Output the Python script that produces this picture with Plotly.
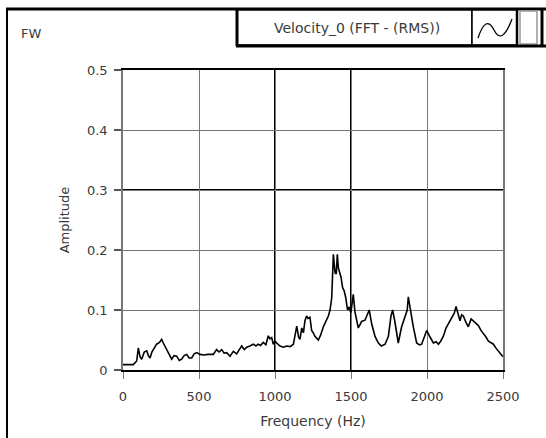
import plotly.graph_objects as go

# ---- data ----
freq_hz = [
    0, 68, 90, 101, 112, 123, 140, 156, 167, 178,
    190, 200, 221, 240, 254, 265, 276, 298, 320, 336,
    353, 370, 386, 402, 419, 435, 452, 468, 485, 506,
    530, 560, 594, 616, 632, 649, 665, 682, 704, 726,
    748, 765, 781, 798, 814, 835, 857, 875, 890, 905,
    923, 940, 956, 967, 978, 989, 1000, 1011, 1033, 1055,
    1077, 1100, 1121, 1143, 1155, 1164, 1176, 1187, 1197, 1208,
    1217, 1230, 1241, 1252, 1263, 1285, 1300, 1318, 1335, 1351,
    1362, 1373, 1384, 1390, 1395, 1403, 1410, 1417, 1425, 1434,
    1445, 1455, 1466, 1477, 1488, 1499, 1515, 1526, 1548, 1570,
    1592, 1605, 1620, 1636, 1658, 1680, 1700, 1724, 1746, 1763,
    1774, 1789, 1811, 1833, 1855, 1870, 1877, 1888, 1910, 1932,
    1950, 1965, 1980, 1998, 2020, 2042, 2060, 2075, 2090, 2107,
    2125, 2140, 2162, 2180, 2191, 2205, 2217, 2228, 2239, 2255,
    2272, 2290, 2305, 2320, 2338, 2355, 2371, 2388, 2404, 2420,
    2437, 2455, 2469, 2485, 2500,
]
amplitude = [
    0.009, 0.009, 0.015, 0.037, 0.022, 0.018, 0.030, 0.032, 0.024, 0.020,
    0.030, 0.034, 0.043, 0.046, 0.051, 0.045, 0.040, 0.029, 0.018, 0.024,
    0.023, 0.016, 0.018, 0.024, 0.026, 0.020, 0.020, 0.027, 0.029, 0.026,
    0.025, 0.026, 0.026, 0.034, 0.030, 0.034, 0.028, 0.029, 0.023, 0.031,
    0.027, 0.034, 0.040, 0.034, 0.038, 0.040, 0.043, 0.040, 0.043, 0.041,
    0.046, 0.042, 0.057, 0.052, 0.054, 0.043, 0.048, 0.045, 0.040, 0.038,
    0.040, 0.039, 0.043, 0.073, 0.055, 0.051, 0.070, 0.062, 0.082, 0.090,
    0.086, 0.088, 0.066, 0.062, 0.056, 0.050, 0.058, 0.072, 0.082, 0.090,
    0.100, 0.120, 0.193, 0.165, 0.162, 0.160, 0.193, 0.170, 0.162, 0.155,
    0.137, 0.132, 0.120, 0.100, 0.105, 0.095, 0.126, 0.097, 0.070, 0.081,
    0.083, 0.090, 0.100, 0.077, 0.056, 0.045, 0.040, 0.043, 0.056, 0.090,
    0.100, 0.080, 0.045, 0.072, 0.088, 0.100, 0.122, 0.104, 0.072, 0.045,
    0.042, 0.043, 0.055, 0.066, 0.055, 0.045, 0.047, 0.043, 0.048, 0.056,
    0.070, 0.077, 0.088, 0.095, 0.106, 0.090, 0.082, 0.092, 0.090, 0.080,
    0.072, 0.085, 0.082, 0.078, 0.074, 0.066, 0.061, 0.055, 0.048, 0.046,
    0.043, 0.036, 0.032, 0.028, 0.022,
]
x_ticks = [0, 500, 1000, 1500, 2000, 2500]
x_tick_text = ["0", "500", "1000", "1500", "2000", "2500"]
y_ticks = [0, 0.1, 0.2, 0.3, 0.4, 0.5]
y_tick_text = ["0", "0.1", "0.2", "0.3", "0.4", "0.5"]
legend_name = "Velocity_0 (FFT - (RMS))"
panel_label = "FW"

W, H = 546, 438
L, R, T, B = 123, 503, 70, 370   # plot area in pixels


def px(x):
    return (x - L) / (R - L)


def py(y):
    return (B - y) / (B - T)


FONT = "DejaVu Sans"
TXT = "#3a3a3a"
FS = 13

fig = go.Figure()
fig.add_trace(go.Scatter(
    x=freq_hz, y=amplitude, mode="lines",
    line=dict(color="black", width=1.6),
    showlegend=False, hoverinfo="skip",
))

shapes = []
# emphasised grid lines (appear darker in the reference)
for xv in (1000, 1500):
    shapes.append(dict(type="line", xref="x", yref="paper", x0=xv, x1=xv, y0=0, y1=1,
                       line=dict(color="black", width=2), layer="below"))
shapes.append(dict(type="line", xref="paper", yref="y", x0=0, x1=1, y0=0.3, y1=0.3,
                   line=dict(color="black", width=2), layer="below"))

# outer panel border
shapes.append(dict(type="line", xref="paper", yref="paper",
                   x0=px(7), x1=px(7), y0=py(8), y1=py(440),
                   line=dict(color="black", width=2)))
shapes.append(dict(type="line", xref="paper", yref="paper",
                   x0=px(6), x1=px(548), y0=py(9), y1=py(9),
                   line=dict(color="black", width=3)))

# legend boxes
shapes.append(dict(type="rect", xref="paper", yref="paper",
                   x0=px(237), x1=px(472), y0=py(10), y1=py(45),
                   line=dict(color="black", width=1.5), fillcolor="white"))
shapes.append(dict(type="line", xref="paper", yref="paper",
                   x0=px(237), x1=px(237), y0=py(10), y1=py(46),
                   line=dict(color="black", width=3)))
shapes.append(dict(type="rect", xref="paper", yref="paper",
                   x0=px(472), x1=px(517), y0=py(10), y1=py(45),
                   line=dict(color="black", width=1.5), fillcolor="white"))
shapes.append(dict(type="line", xref="paper", yref="paper",
                   x0=px(517), x1=px(517), y0=py(10), y1=py(46),
                   line=dict(color="black", width=2.5)))
shapes.append(dict(type="rect", xref="paper", yref="paper",
                   x0=px(520), x1=px(537), y0=py(11), y1=py(44),
                   line=dict(color="#999999", width=1.5), fillcolor="white"))
shapes.append(dict(type="line", xref="paper", yref="paper",
                   x0=px(236), x1=px(546), y0=py(46), y1=py(46),
                   line=dict(color="black", width=3)))
shapes.append(dict(type="line", xref="paper", yref="paper",
                   x0=px(542), x1=px(542), y0=py(9), y1=py(47),
                   line=dict(color="black", width=3)))

# sine glyph in legend
path = (f"M {px(478)},{py(38)} Q {px(486)},{py(14)} {px(494)},{py(30)} "
        f"Q {px(502)},{py(46)} {px(512)},{py(19)}")
shapes.append(dict(type="path", xref="paper", yref="paper", path=path,
                   line=dict(color="black", width=1.3)))

annotations = [
    dict(text=legend_name, xref="paper", yref="paper", x=px(357), y=py(28),
         showarrow=False, xanchor="center", yanchor="middle",
         font=dict(family=FONT, size=14, color=TXT)),
    dict(text=panel_label, xref="paper", yref="paper", x=px(19), y=py(33),
         showarrow=False, xanchor="left", yanchor="middle",
         font=dict(family=FONT, size=FS, color=TXT)),
]

fig.update_layout(
    width=W, height=H,
    margin=dict(l=L, r=W - R, t=T, b=H - B),
    paper_bgcolor="white", plot_bgcolor="white",
    font=dict(family=FONT, size=FS, color=TXT),
    shapes=shapes, annotations=annotations,
    xaxis=dict(
        range=[0, 2500], tickvals=x_ticks, ticktext=x_tick_text,
        showgrid=True, gridcolor="#777777", gridwidth=1,
        showline=True, linecolor="black", linewidth=2, mirror=True,
        ticks="outside", ticklen=7, tickwidth=1, tickcolor="#777777",
        ticklabelstandoff=6,
        zeroline=False,
        title=dict(text="Frequency (Hz)", standoff=14,
                   font=dict(family=FONT, size=14, color=TXT)),
        tickfont=dict(family=FONT, size=FS, color=TXT),
    ),
    yaxis=dict(
        range=[0, 0.5], tickvals=y_ticks, ticktext=y_tick_text,
        showgrid=True, gridcolor="#777777", gridwidth=1,
        showline=True, linecolor="#777777", linewidth=1.5, mirror=True,
        ticks="outside", ticklen=7, tickwidth=1.5, tickcolor="#555555",
        ticklabelstandoff=4,
        zeroline=False,
        title=dict(text="Amplitude", standoff=14,
                   font=dict(family=FONT, size=FS, color=TXT)),
        tickfont=dict(family=FONT, size=FS, color=TXT),
    ),
)

fig.write_html("out.html", config={"displayModeBar": False},
               post_script="document.body.style.margin='0px';")
